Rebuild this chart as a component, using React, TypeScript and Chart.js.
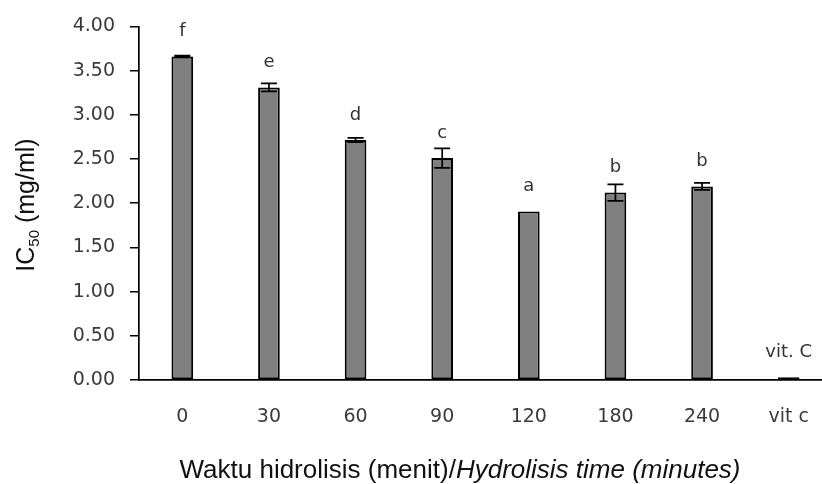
import React, { useEffect, useRef } from "react";
import { Chart, registerables } from "chart.js";

Chart.register(...registerables);

const categories = ["0", "30", "60", "90", "120", "180", "240", "vit c"];
const ic50Values = [3.66, 3.31, 2.715, 2.51, 1.905, 2.12, 2.19, 0.03];
const errorValues = [0.01, 0.045, 0.025, 0.11, 0, 0.093, 0.04, 0];
const groupLetters = ["f", "e", "d", "c", "a", "b", "b", "vit. C"];
const yMin = 0;
const yMax = 4;
const yStep = 0.5;

const TICK_FONT = "DejaVu Sans";
const TITLE_FONT = "Liberation Sans";

const errorBarPlugin = {
  id: "errorBars",
  afterDatasetsDraw(chart: any) {
    const ctx = chart.ctx;
    const meta = chart.getDatasetMeta(0);
    const yScale = chart.scales.y;
    ctx.save();
    ctx.strokeStyle = "#000";
    ctx.lineWidth = 1.7;
    meta.data.forEach((el: any, i: number) => {
      const e = errorValues[i];
      if (!e) return;
      const v = ic50Values[i];
      const yt = yScale.getPixelForValue(v + e);
      const yb = yScale.getPixelForValue(v - e);
      const x = el.x;
      const half = 8;
      ctx.beginPath();
      ctx.moveTo(x, yt);
      ctx.lineTo(x, yb);
      ctx.moveTo(x - half, yt);
      ctx.lineTo(x + half, yt);
      ctx.moveTo(x - half, yb);
      ctx.lineTo(x + half, yb);
      ctx.stroke();
    });
    ctx.restore();
  },
};

const letterPlugin = {
  id: "letters",
  afterDatasetsDraw(chart: any) {
    const ctx = chart.ctx;
    const meta = chart.getDatasetMeta(0);
    ctx.save();
    ctx.fillStyle = "#333";
    ctx.font = `18px "${TICK_FONT}"`;
    ctx.textAlign = "center";
    ctx.textBaseline = "middle";
    meta.data.forEach((el: any, i: number) => {
      ctx.fillText(groupLetters[i], el.x, el.y - 25);
    });
    ctx.restore();
  },
};

const titlePlugin = {
  id: "axisTitles",
  afterDraw(chart: any) {
    const ctx = chart.ctx;
    ctx.save();
    ctx.fillStyle = "#111";
    const big = `25px "${TITLE_FONT}"`;
    const small = `15px "${TITLE_FONT}"`;
    ctx.font = big;
    const w1 = ctx.measureText("IC").width;
    const w3 = ctx.measureText(" (mg/ml)").width;
    ctx.font = small;
    const w2 = ctx.measureText("50").width;
    const total = w1 + w2 + w3;
    ctx.translate(34, 205);
    ctx.rotate(-Math.PI / 2);
    ctx.textBaseline = "alphabetic";
    ctx.textAlign = "left";
    let x = -total / 2;
    ctx.font = big;
    ctx.fillText("IC", x, 0);
    x += w1;
    ctx.font = small;
    ctx.fillText("50", x, 5);
    x += w2;
    ctx.font = big;
    ctx.fillText(" (mg/ml)", x, 0);
    ctx.restore();

    ctx.save();
    ctx.fillStyle = "#111";
    const reg = `26px "${TITLE_FONT}"`;
    const ital = `italic 26px "${TITLE_FONT}"`;
    const t1 = "Waktu hidrolisis (menit)/";
    const t2 = "Hydrolisis time (minutes)";
    ctx.font = reg;
    const a = ctx.measureText(t1).width;
    ctx.font = ital;
    const b = ctx.measureText(t2).width;
    const sx = 460 - (a + b) / 2;
    ctx.textBaseline = "alphabetic";
    ctx.textAlign = "left";
    ctx.font = reg;
    ctx.fillText(t1, sx, 478);
    ctx.font = ital;
    ctx.fillText(t2, sx + a, 478);
    ctx.restore();
  },
};

export default function App() {
  const ref = useRef<HTMLCanvasElement | null>(null);
  useEffect(() => {
    if (!ref.current) return;
    const chart = new Chart(ref.current, {
      type: "bar",
      data: {
        labels: categories,
        datasets: [
          {
            data: ic50Values,
            backgroundColor: "#808080",
            borderColor: "#000",
            borderWidth: 2,
            borderSkipped: false,
            barPercentage: 0.25,
            categoryPercentage: 1,
          },
        ],
      },
      options: {
        animation: false,
        responsive: false,
        devicePixelRatio: 1,
        layout: { padding: { top: 22, right: 8, bottom: 0, left: 0 } },
        plugins: {
          legend: { display: false },
          tooltip: { enabled: false },
          title: { display: false },
        },
        scales: {
          x: {
            grid: { display: false },
            border: { display: true, color: "#000", width: 1.7 },
            ticks: {
              color: "#3a3a3a",
              font: { family: TICK_FONT, size: 19 },
              padding: 18,
              maxRotation: 0,
              autoSkip: false,
            },
            afterFit(scale: any) {
              scale.height = 104;
            },
          },
          y: {
            min: yMin,
            max: yMax,
            grid: {
              drawOnChartArea: false,
              drawTicks: true,
              tickLength: 9,
              color: "#000",
              lineWidth: 1.5,
            },
            border: { display: true, color: "#000", width: 1.7 },
            ticks: {
              stepSize: yStep,
              color: "#3a3a3a",
              font: { family: TICK_FONT, size: 19 },
              padding: 15,
              callback: (v: any) => Number(v).toFixed(2),
            },
            afterFit(scale: any) {
              scale.width = 139;
            },
          },
        },
      },
      plugins: [errorBarPlugin, letterPlugin, titlePlugin],
    });
    return () => chart.destroy();
  }, []);

  return (
    <div
      style={{
        position: "fixed",
        left: 0,
        top: 0,
        width: 822,
        height: 484,
        overflow: "hidden",
        background: "#fff",
      }}
    >
      <canvas ref={ref} width={840} height={484} style={{ display: "block" }} />
    </div>
  );
}
